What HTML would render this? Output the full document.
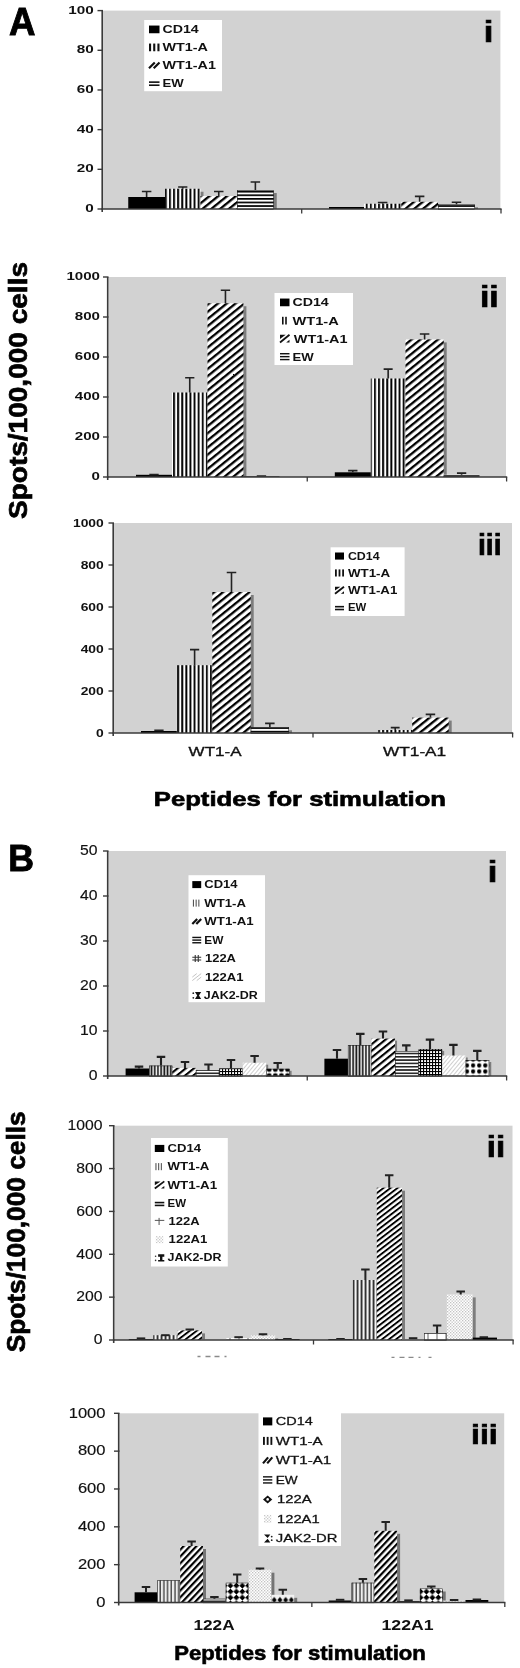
<!DOCTYPE html>
<html><head><meta charset="utf-8"><title>Figure</title>
<style>html,body{margin:0;padding:0;background:#fff}svg{display:block;font-family:"Liberation Sans",sans-serif;filter:blur(0.45px)}body{overflow:hidden;width:520px;height:1668px}</style>
</head><body>
<svg width="520" height="1668" viewBox="0 0 520 1668">
<defs>
<pattern id="v4" patternUnits="userSpaceOnUse" width="4.1" height="4"><rect width="4.1" height="4" fill="#fff"/><rect x="0.9" width="1.9" height="4" fill="#000"/></pattern>
<pattern id="v3" patternUnits="userSpaceOnUse" width="3" height="3"><rect width="3" height="3" fill="#fff"/><rect x="0.2" width="1.5" height="3" fill="#000"/></pattern>
<pattern id="v25" patternUnits="userSpaceOnUse" width="2.6" height="3"><rect width="2.6" height="3" fill="#fff"/><rect x="0.2" width="1.2" height="3" fill="#111"/></pattern>
<pattern id="h4" patternUnits="userSpaceOnUse" width="4" height="3.6"><rect width="4" height="3.6" fill="#fff"/><rect y="0" width="4" height="1.7" fill="#000"/></pattern>
<pattern id="h3" patternUnits="userSpaceOnUse" width="3" height="3.3"><rect width="3" height="3.3" fill="#fff"/><rect y="0" width="3" height="1.6" fill="#222"/></pattern>
<pattern id="dg" patternUnits="userSpaceOnUse" width="5.55" height="5.55" patternTransform="rotate(-39)"><rect width="5.55" height="5.55" fill="#fff"/><rect y="0" width="5.55" height="2.3" fill="#000"/></pattern>
<pattern id="dgs" patternUnits="userSpaceOnUse" width="5.17" height="5.17" patternTransform="rotate(-39)"><rect width="5.17" height="5.17" fill="#fff"/><rect y="0" width="5.17" height="2.1" fill="#000"/></pattern>
<pattern id="dgm" patternUnits="userSpaceOnUse" width="4.66" height="4.66" patternTransform="rotate(-46.7)"><rect width="4.66" height="4.66" fill="#fff"/><rect y="0" width="4.66" height="2.2" fill="#000"/></pattern>
<pattern id="v33" patternUnits="userSpaceOnUse" width="3.2" height="3"><rect width="3.2" height="3" fill="#fff"/><rect x="0.3" width="1.7" height="3" fill="#111"/></pattern>
<pattern id="v40" patternUnits="userSpaceOnUse" width="4" height="3"><rect width="4" height="3" fill="#f4f4f4"/><rect x="0.6" width="1.9" height="3" fill="#333"/></pattern>
<pattern id="v31" patternUnits="userSpaceOnUse" width="3.7" height="3"><rect width="3.7" height="3" fill="#eee"/><rect x="0.4" width="1.4" height="3" fill="#444"/></pattern>
<pattern id="bdots" patternUnits="userSpaceOnUse" x="463.95" y="1062.5" width="6.1" height="6"><rect width="6.1" height="6" fill="#fff"/><circle cx="3.05" cy="3" r="2.15" fill="#000"/></pattern>
<pattern id="bdots1" patternUnits="userSpaceOnUse" x="266.2" y="1066.5" width="6.1" height="6"><rect width="6.1" height="6" fill="#fff"/><circle cx="3.05" cy="3" r="2.3" fill="#000"/></pattern>
<pattern id="dg2" patternUnits="userSpaceOnUse" width="4.26" height="4.26" patternTransform="rotate(-37.4)"><rect width="4.26" height="4.26" fill="#fff"/><rect y="0" width="4.26" height="1.9" fill="#000"/></pattern>
<pattern id="grid" patternUnits="userSpaceOnUse" width="3" height="3"><rect width="3" height="3" fill="#000"/><rect x="1.1" y="1.1" width="1.9" height="1.9" fill="#fff"/></pattern>
<pattern id="biggrid" patternUnits="userSpaceOnUse" width="9" height="7"><rect width="9" height="7" fill="#fff"/><path d="M0 3H9M5 0V7" stroke="#555" stroke-width="0.9"/></pattern>
<pattern id="lhatch" patternUnits="userSpaceOnUse" width="3" height="3" patternTransform="rotate(-50)"><rect width="3" height="3" fill="#fff"/><rect y="0" width="3" height="1" fill="#cfcfcf"/></pattern>
<pattern id="ldot" patternUnits="userSpaceOnUse" width="3" height="3"><rect width="3" height="3" fill="#fff"/><rect x="0" y="0" width="1.3" height="1.3" fill="#c2c2c2"/><rect x="1.5" y="1.5" width="1.3" height="1.3" fill="#c2c2c2"/></pattern>
<pattern id="dots" patternUnits="userSpaceOnUse" width="7.6" height="7.6"><rect width="7.6" height="7.6" fill="#000"/><circle cx="3.8" cy="3.8" r="2.5" fill="#fff"/></pattern>
<pattern id="check" patternUnits="userSpaceOnUse" width="8.4" height="8.4" patternTransform="translate(224.5 1582.7) rotate(45)"><rect width="8.4" height="8.4" fill="#fff"/><rect width="4.2" height="4.2" fill="#000"/><rect x="4.2" y="4.2" width="4.2" height="4.2" fill="#000"/></pattern>
<pattern id="diam" patternUnits="userSpaceOnUse" x="271.4" y="1593.5" width="5.7" height="9"><rect width="5.7" height="9" fill="#f2f2f2"/><path d="M2.85 3.4L5.3 6.4L2.85 9.4L0.4 6.4Z" fill="#000"/></pattern>
</defs>
<rect width="520" height="1668" fill="#fff"/>

<rect x="103.00" y="10.60" width="397.40" height="198.40" fill="#d2d2d2"/>
<rect x="131.25" y="200.00" width="36.75" height="9.00" fill="#7d7d7d"/>
<rect x="168.00" y="191.75" width="35.50" height="17.25" fill="#7d7d7d"/>
<rect x="203.50" y="199.00" width="36.50" height="10.00" fill="#7d7d7d"/>
<rect x="240.00" y="193.00" width="36.75" height="16.00" fill="#7d7d7d"/>
<rect x="367.00" y="206.75" width="37.25" height="2.25" fill="#7d7d7d"/>
<rect x="404.25" y="204.80" width="36.75" height="4.20" fill="#7d7d7d"/>
<rect x="441.00" y="207.30" width="37.00" height="1.70" fill="#7d7d7d"/>
<rect x="128.25" y="197.00" width="36.75" height="12.00" fill="#000"/>
<rect x="165.00" y="188.75" width="35.50" height="20.25" fill="url(#v4)"/>
<rect x="200.50" y="196.00" width="36.50" height="13.00" fill="url(#dg)"/>
<rect x="237.00" y="190.00" width="36.75" height="19.00" fill="url(#h4)"/>
<rect x="237.30" y="190.30" width="36.15" height="19.00" fill="none" stroke="#222" stroke-width="0.6"/>
<rect x="329.00" y="207.00" width="35.00" height="2.00" fill="#000"/>
<rect x="364.00" y="203.75" width="37.25" height="5.25" fill="url(#v4)"/>
<rect x="401.25" y="201.80" width="36.75" height="7.20" fill="url(#dg)"/>
<rect x="438.00" y="204.30" width="37.00" height="4.70" fill="url(#h4)"/>
<rect x="438.30" y="204.60" width="36.40" height="4.70" fill="none" stroke="#222" stroke-width="0.6"/>
<path d="M141.88 191.55H151.38M146.62 191.55V197.00" stroke="#222" stroke-width="1.6" fill="none"/>
<path d="M178.13 187.05H187.37M182.75 187.05V188.75" stroke="#222" stroke-width="1.6" fill="none"/>
<path d="M214.00 191.55H223.50M218.75 191.55V196.00" stroke="#222" stroke-width="1.6" fill="none"/>
<path d="M250.62 182.05H260.12M255.38 182.05V190.00" stroke="#222" stroke-width="1.6" fill="none"/>
<path d="M377.88 202.55H387.38M382.62 202.55V203.75" stroke="#222" stroke-width="1.6" fill="none"/>
<path d="M414.88 196.40H424.38M419.62 196.40V201.80" stroke="#222" stroke-width="1.6" fill="none"/>
<path d="M451.75 202.30H461.25M456.50 202.30V204.30" stroke="#222" stroke-width="1.6" fill="none"/>
<path d="M102.20 10.60V212.00" stroke="#3a3a3a" stroke-width="1.6"/>
<path d="M101.40 209.00H501.60" stroke="#3a3a3a" stroke-width="1.6"/>
<path d="M301.70 209.00V213.50" stroke="#3a3a3a" stroke-width="1.3"/>
<path d="M501.00 209.00V213.50" stroke="#3a3a3a" stroke-width="1.3"/>
<path d="M97.50 209.00H103.00" stroke="#3a3a3a" stroke-width="1.4"/>
<text x="85.25" y="212.00" font-size="11.59" font-weight="bold" fill="#111" textLength="8.50" lengthAdjust="spacingAndGlyphs" >0</text>
<path d="M97.50 169.32H103.00" stroke="#3a3a3a" stroke-width="1.4"/>
<text x="76.75" y="172.32" font-size="11.59" font-weight="bold" fill="#111" textLength="17.00" lengthAdjust="spacingAndGlyphs" >20</text>
<path d="M97.50 129.64H103.00" stroke="#3a3a3a" stroke-width="1.4"/>
<text x="76.75" y="132.64" font-size="11.59" font-weight="bold" fill="#111" textLength="17.00" lengthAdjust="spacingAndGlyphs" >40</text>
<path d="M97.50 89.96H103.00" stroke="#3a3a3a" stroke-width="1.4"/>
<text x="76.75" y="92.96" font-size="11.59" font-weight="bold" fill="#111" textLength="17.00" lengthAdjust="spacingAndGlyphs" >60</text>
<path d="M97.50 50.28H103.00" stroke="#3a3a3a" stroke-width="1.4"/>
<text x="76.75" y="53.28" font-size="11.59" font-weight="bold" fill="#111" textLength="17.00" lengthAdjust="spacingAndGlyphs" >80</text>
<path d="M97.50 10.60H103.00" stroke="#3a3a3a" stroke-width="1.4"/>
<text x="68.25" y="13.60" font-size="11.59" font-weight="bold" fill="#111" textLength="25.50" lengthAdjust="spacingAndGlyphs" >100</text>
<rect x="144.20" y="20.00" width="77.80" height="71.20" fill="#fff"/>
<text x="162.50" y="33.25" font-size="11.16" font-weight="bold" fill="#111" textLength="36.25" lengthAdjust="spacingAndGlyphs" >CD14</text>
<rect x="149.00" y="25.55" width="10.50" height="7.70" fill="#000"/>
<text x="162.50" y="51.25" font-size="11.16" font-weight="bold" fill="#111" textLength="45.50" lengthAdjust="spacingAndGlyphs" >WT1-A</text>
<rect x="149.00" y="43.55" width="2.10" height="7.70" fill="#111"/>
<rect x="153.20" y="43.55" width="2.10" height="7.70" fill="#111"/>
<rect x="157.40" y="43.55" width="2.10" height="7.70" fill="#111"/>
<text x="162.50" y="69.25" font-size="11.16" font-weight="bold" fill="#111" textLength="53.50" lengthAdjust="spacingAndGlyphs" >WT1-A1</text>
<path d="M149.00 68.25L154.78 62.55M153.72 68.25L159.50 62.55" stroke="#111" stroke-width="2.2" fill="none"/>
<text x="162.50" y="86.60" font-size="11.16" font-weight="bold" fill="#111" textLength="21.25" lengthAdjust="spacingAndGlyphs" >EW</text>
<rect x="149.00" y="81.33" width="10.50" height="1.6" fill="#111"/>
<rect x="149.00" y="84.41" width="10.50" height="1.6" fill="#111"/>
<text x="483.73" y="42.35" font-size="29.44" font-weight="bold" fill="#000" stroke="#000" stroke-width="0.7" textLength="9.62" lengthAdjust="spacingAndGlyphs">i</text>
<rect x="108.50" y="277.00" width="397.50" height="200.00" fill="#d2d2d2"/>
<rect x="175.00" y="395.50" width="35.50" height="81.50" fill="#7d7d7d"/>
<rect x="210.50" y="306.25" width="35.90" height="170.75" fill="#7d7d7d"/>
<rect x="337.80" y="475.30" width="36.00" height="1.70" fill="#7d7d7d"/>
<rect x="373.80" y="381.50" width="34.70" height="95.50" fill="#7d7d7d"/>
<rect x="408.50" y="342.40" width="38.20" height="134.60" fill="#7d7d7d"/>
<rect x="136.00" y="474.80" width="36.00" height="2.20" fill="#000"/>
<rect x="172.00" y="392.50" width="35.50" height="84.50" fill="url(#v4)"/>
<rect x="207.50" y="303.25" width="35.90" height="173.75" fill="url(#dg)"/>
<rect x="243.40" y="476.20" width="36.10" height="0.80" fill="url(#h3)"/>
<rect x="334.80" y="472.30" width="36.00" height="4.70" fill="#000"/>
<rect x="370.80" y="378.50" width="34.70" height="98.50" fill="url(#v4)"/>
<rect x="405.50" y="339.40" width="38.20" height="137.60" fill="url(#dg)"/>
<rect x="443.70" y="474.80" width="35.80" height="2.20" fill="url(#h3)"/>
<path d="M149.32 474.60H158.68M154.00 474.60V474.80" stroke="#222" stroke-width="1.6" fill="none"/>
<path d="M185.13 377.80H194.37M189.75 377.80V392.50" stroke="#222" stroke-width="1.6" fill="none"/>
<path d="M220.78 290.30H230.12M225.45 290.30V303.25" stroke="#222" stroke-width="1.6" fill="none"/>
<path d="M256.76 476.00H266.14M261.45 476.00V476.20" stroke="#222" stroke-width="1.6" fill="none"/>
<path d="M348.12 470.60H357.48M352.80 470.60V472.30" stroke="#222" stroke-width="1.6" fill="none"/>
<path d="M383.64 369.10H392.66M388.15 369.10V378.50" stroke="#222" stroke-width="1.6" fill="none"/>
<path d="M419.85 334.00H429.35M424.60 334.00V339.40" stroke="#222" stroke-width="1.6" fill="none"/>
<path d="M456.95 473.10H466.25M461.60 473.10V474.80" stroke="#222" stroke-width="1.6" fill="none"/>
<path d="M107.70 277.00V480.00" stroke="#3a3a3a" stroke-width="1.6"/>
<path d="M106.90 477.00H507.20" stroke="#3a3a3a" stroke-width="1.6"/>
<path d="M307.25 477.00V481.50" stroke="#3a3a3a" stroke-width="1.3"/>
<path d="M506.60 477.00V481.50" stroke="#3a3a3a" stroke-width="1.3"/>
<path d="M103.00 477.00H108.50" stroke="#3a3a3a" stroke-width="1.4"/>
<text x="91.60" y="480.40" font-size="11.30" font-weight="bold" fill="#111" textLength="8.40" lengthAdjust="spacingAndGlyphs" >0</text>
<path d="M103.00 437.00H108.50" stroke="#3a3a3a" stroke-width="1.4"/>
<text x="74.80" y="440.40" font-size="11.30" font-weight="bold" fill="#111" textLength="25.20" lengthAdjust="spacingAndGlyphs" >200</text>
<path d="M103.00 397.00H108.50" stroke="#3a3a3a" stroke-width="1.4"/>
<text x="74.80" y="400.40" font-size="11.30" font-weight="bold" fill="#111" textLength="25.20" lengthAdjust="spacingAndGlyphs" >400</text>
<path d="M103.00 357.00H108.50" stroke="#3a3a3a" stroke-width="1.4"/>
<text x="74.80" y="360.40" font-size="11.30" font-weight="bold" fill="#111" textLength="25.20" lengthAdjust="spacingAndGlyphs" >600</text>
<path d="M103.00 317.00H108.50" stroke="#3a3a3a" stroke-width="1.4"/>
<text x="74.80" y="320.40" font-size="11.30" font-weight="bold" fill="#111" textLength="25.20" lengthAdjust="spacingAndGlyphs" >800</text>
<path d="M103.00 277.00H108.50" stroke="#3a3a3a" stroke-width="1.4"/>
<text x="66.40" y="280.40" font-size="11.30" font-weight="bold" fill="#111" textLength="33.60" lengthAdjust="spacingAndGlyphs" >1000</text>
<rect x="274.50" y="293.00" width="78.50" height="72.00" fill="#fff"/>
<text x="292.50" y="306.25" font-size="11.16" font-weight="bold" fill="#111" textLength="36.25" lengthAdjust="spacingAndGlyphs" >CD14</text>
<rect x="280.00" y="298.55" width="9.50" height="7.70" fill="#000"/>
<text x="292.50" y="324.50" font-size="11.16" font-weight="bold" fill="#111" textLength="46.25" lengthAdjust="spacingAndGlyphs" >WT1-A</text>
<rect x="282.00" y="316.80" width="1.6" height="7.70" fill="#111"/>
<rect x="285.20" y="316.80" width="1.6" height="7.70" fill="#111"/>
<text x="293.75" y="342.50" font-size="11.16" font-weight="bold" fill="#111" textLength="53.75" lengthAdjust="spacingAndGlyphs" >WT1-A1</text>
<path d="M280.00 334.80H285.70L280.00 339.04Z" fill="#111"/>
<path d="M280.00 342.50L289.50 334.80" stroke="#111" stroke-width="1.8"/>
<path d="M289.50 342.50H286.18L289.50 339.81Z" fill="#111"/>
<text x="292.50" y="360.50" font-size="11.16" font-weight="bold" fill="#111" textLength="21.25" lengthAdjust="spacingAndGlyphs" >EW</text>
<rect x="280.00" y="353.02" width="9.50" height="1.4" fill="#111"/>
<rect x="280.00" y="355.95" width="9.50" height="1.4" fill="#111"/>
<rect x="280.00" y="358.88" width="9.50" height="1.4" fill="#111"/>
<text x="479.98" y="307.35" font-size="29.17" font-weight="bold" fill="#000" stroke="#000" stroke-width="0.7" textLength="18.81" lengthAdjust="spacingAndGlyphs">ii</text>
<rect x="114.00" y="523.00" width="398.00" height="210.00" fill="#d2d2d2"/>
<rect x="179.90" y="668.20" width="35.40" height="64.80" fill="#7d7d7d"/>
<rect x="215.30" y="595.00" width="38.40" height="138.00" fill="#7d7d7d"/>
<rect x="253.70" y="730.30" width="38.30" height="2.70" fill="#7d7d7d"/>
<rect x="415.20" y="720.60" width="36.50" height="12.40" fill="#7d7d7d"/>
<rect x="141.00" y="731.00" width="35.90" height="2.00" fill="#000"/>
<rect x="176.90" y="665.20" width="35.40" height="67.80" fill="url(#v4)"/>
<rect x="212.30" y="592.00" width="38.40" height="141.00" fill="url(#dg)"/>
<rect x="250.70" y="727.30" width="38.30" height="5.70" fill="url(#h4)"/>
<rect x="251.00" y="727.60" width="37.70" height="5.70" fill="none" stroke="#222" stroke-width="0.6"/>
<rect x="378.20" y="730.00" width="34.00" height="3.00" fill="url(#v4)"/>
<rect x="412.20" y="717.60" width="36.50" height="15.40" fill="url(#dg)"/>
<path d="M154.28 730.40H163.62M158.95 730.40V731.00" stroke="#222" stroke-width="1.6" fill="none"/>
<path d="M190.00 649.60H199.20M194.60 649.60V665.20" stroke="#222" stroke-width="1.6" fill="none"/>
<path d="M226.75 572.50H236.25M231.50 572.50V592.00" stroke="#222" stroke-width="1.6" fill="none"/>
<path d="M265.10 723.40H274.60M269.85 723.40V727.30" stroke="#222" stroke-width="1.6" fill="none"/>
<path d="M390.78 727.60H399.62M395.20 727.60V730.00" stroke="#222" stroke-width="1.6" fill="none"/>
<path d="M425.70 714.40H435.19M430.45 714.40V717.60" stroke="#222" stroke-width="1.6" fill="none"/>
<path d="M113.20 523.00V736.00" stroke="#3a3a3a" stroke-width="1.6"/>
<path d="M112.40 733.00H513.20" stroke="#3a3a3a" stroke-width="1.6"/>
<path d="M313.00 733.00V737.50" stroke="#3a3a3a" stroke-width="1.3"/>
<path d="M512.60 733.00V737.50" stroke="#3a3a3a" stroke-width="1.3"/>
<path d="M108.50 733.00H114.00" stroke="#3a3a3a" stroke-width="1.4"/>
<text x="96.05" y="737.10" font-size="10.43" font-weight="bold" fill="#111" textLength="7.70" lengthAdjust="spacingAndGlyphs" >0</text>
<path d="M108.50 691.00H114.00" stroke="#3a3a3a" stroke-width="1.4"/>
<text x="80.65" y="695.10" font-size="10.43" font-weight="bold" fill="#111" textLength="23.10" lengthAdjust="spacingAndGlyphs" >200</text>
<path d="M108.50 649.00H114.00" stroke="#3a3a3a" stroke-width="1.4"/>
<text x="80.65" y="653.10" font-size="10.43" font-weight="bold" fill="#111" textLength="23.10" lengthAdjust="spacingAndGlyphs" >400</text>
<path d="M108.50 607.00H114.00" stroke="#3a3a3a" stroke-width="1.4"/>
<text x="80.65" y="611.10" font-size="10.43" font-weight="bold" fill="#111" textLength="23.10" lengthAdjust="spacingAndGlyphs" >600</text>
<path d="M108.50 565.00H114.00" stroke="#3a3a3a" stroke-width="1.4"/>
<text x="80.65" y="569.10" font-size="10.43" font-weight="bold" fill="#111" textLength="23.10" lengthAdjust="spacingAndGlyphs" >800</text>
<path d="M108.50 523.00H114.00" stroke="#3a3a3a" stroke-width="1.4"/>
<text x="72.95" y="527.10" font-size="10.43" font-weight="bold" fill="#111" textLength="30.80" lengthAdjust="spacingAndGlyphs" >1000</text>
<rect x="330.60" y="547.30" width="74.00" height="68.70" fill="#fff"/>
<text x="347.90" y="559.60" font-size="10.29" font-weight="bold" fill="#111" textLength="31.70" lengthAdjust="spacingAndGlyphs" >CD14</text>
<rect x="335.00" y="552.50" width="9.00" height="7.10" fill="#000"/>
<text x="347.90" y="576.50" font-size="10.29" font-weight="bold" fill="#111" textLength="42.30" lengthAdjust="spacingAndGlyphs" >WT1-A</text>
<rect x="335.00" y="569.40" width="1.80" height="7.10" fill="#111"/>
<rect x="338.60" y="569.40" width="1.80" height="7.10" fill="#111"/>
<rect x="342.20" y="569.40" width="1.80" height="7.10" fill="#111"/>
<text x="347.90" y="593.80" font-size="10.29" font-weight="bold" fill="#111" textLength="49.40" lengthAdjust="spacingAndGlyphs" >WT1-A1</text>
<path d="M335.00 586.70H340.40L335.00 590.60Z" fill="#111"/>
<path d="M335.00 593.80L344.00 586.70" stroke="#111" stroke-width="1.8"/>
<path d="M344.00 593.80H340.85L344.00 591.31Z" fill="#111"/>
<text x="347.90" y="610.80" font-size="10.29" font-weight="bold" fill="#111" textLength="18.30" lengthAdjust="spacingAndGlyphs" >EW</text>
<rect x="335.00" y="605.88" width="9.00" height="1.6" fill="#111"/>
<rect x="335.00" y="608.72" width="9.00" height="1.6" fill="#111"/>
<text x="477.96" y="555.15" font-size="28.89" font-weight="bold" fill="#000" stroke="#000" stroke-width="0.7" textLength="23.71" lengthAdjust="spacingAndGlyphs">iii</text>
<text x="188.60" y="756.20" font-size="13.33" font-weight="normal" fill="#111" textLength="52.90" lengthAdjust="spacingAndGlyphs" stroke="#111" stroke-width="0.35">WT1-A</text>
<text x="383.00" y="756.20" font-size="13.33" font-weight="normal" fill="#111" textLength="63.20" lengthAdjust="spacingAndGlyphs" stroke="#111" stroke-width="0.35">WT1-A1</text>
<text x="153.80" y="806.40" font-size="19.42" font-weight="bold" fill="#000" textLength="292.20" lengthAdjust="spacingAndGlyphs" stroke="#000" stroke-width="0.6">Peptides for stimulation</text>
<text x="9" y="34.5" font-size="38.4" font-weight="bold" fill="#000" stroke="#000" stroke-width="0.9" textLength="26.5" lengthAdjust="spacingAndGlyphs">A</text>
<text x="8.2" y="871.2" font-size="37.3" font-weight="bold" fill="#000" stroke="#000" stroke-width="0.9" textLength="25.8" lengthAdjust="spacingAndGlyphs">B</text>
<text transform="translate(26.50,519.00) rotate(-90)" x="0" y="0" font-size="26.09" font-weight="bold" fill="#000" stroke="#000" stroke-width="0.7" textLength="257.00" lengthAdjust="spacingAndGlyphs">Spots/100,000 cells</text>
<text transform="translate(25.20,1352.30) rotate(-90)" x="0" y="0" font-size="25.51" font-weight="bold" fill="#000" stroke="#000" stroke-width="0.7" textLength="241.00" lengthAdjust="spacingAndGlyphs">Spots/100,000 cells</text>
<rect x="108.50" y="851.00" width="397.50" height="225.00" fill="#d2d2d2"/>
<rect x="127.60" y="1070.50" width="23.43" height="5.50" fill="#7d7d7d"/>
<rect x="151.03" y="1067.60" width="23.43" height="8.40" fill="#7d7d7d"/>
<rect x="174.46" y="1069.90" width="23.43" height="6.10" fill="#7d7d7d"/>
<rect x="197.89" y="1072.40" width="23.43" height="3.60" fill="#7d7d7d"/>
<rect x="221.32" y="1070.50" width="23.43" height="5.50" fill="#7d7d7d"/>
<rect x="244.75" y="1064.70" width="23.43" height="11.30" fill="#7d7d7d"/>
<rect x="268.18" y="1070.80" width="23.43" height="5.20" fill="#7d7d7d"/>
<rect x="326.40" y="1060.70" width="23.55" height="15.30" fill="#7d7d7d"/>
<rect x="349.95" y="1047.00" width="23.55" height="29.00" fill="#7d7d7d"/>
<rect x="373.50" y="1040.60" width="23.55" height="35.40" fill="#7d7d7d"/>
<rect x="397.05" y="1053.30" width="23.55" height="22.70" fill="#7d7d7d"/>
<rect x="420.60" y="1051.00" width="23.55" height="25.00" fill="#7d7d7d"/>
<rect x="444.15" y="1057.50" width="23.55" height="18.50" fill="#7d7d7d"/>
<rect x="467.70" y="1062.00" width="23.55" height="14.00" fill="#7d7d7d"/>
<rect x="125.60" y="1068.50" width="23.43" height="7.50" fill="#000"/>
<rect x="149.03" y="1065.60" width="23.43" height="10.40" fill="url(#v33)"/>
<rect x="149.33" y="1065.90" width="22.83" height="10.40" fill="none" stroke="#222" stroke-width="0.6"/>
<rect x="172.46" y="1067.90" width="23.43" height="8.10" fill="url(#dgs)"/>
<rect x="195.89" y="1070.40" width="23.43" height="5.60" fill="url(#h3)"/>
<rect x="196.19" y="1070.70" width="22.83" height="5.60" fill="none" stroke="#222" stroke-width="0.6"/>
<rect x="219.32" y="1068.50" width="23.43" height="7.50" fill="url(#grid)"/>
<rect x="219.62" y="1068.80" width="22.83" height="7.50" fill="none" stroke="#222" stroke-width="0.6"/>
<rect x="242.75" y="1062.70" width="23.43" height="13.30" fill="url(#lhatch)"/>
<rect x="266.18" y="1068.80" width="23.43" height="7.20" fill="url(#bdots1)"/>
<rect x="266.48" y="1069.10" width="22.83" height="7.20" fill="none" stroke="#222" stroke-width="0.6"/>
<rect x="324.40" y="1058.70" width="23.55" height="17.30" fill="#000"/>
<rect x="347.95" y="1045.00" width="23.55" height="31.00" fill="url(#v33)"/>
<rect x="348.25" y="1045.30" width="22.95" height="31.00" fill="none" stroke="#222" stroke-width="0.6"/>
<rect x="371.50" y="1038.60" width="23.55" height="37.40" fill="url(#dgs)"/>
<rect x="395.05" y="1051.30" width="23.55" height="24.70" fill="url(#h3)"/>
<rect x="395.35" y="1051.60" width="22.95" height="24.70" fill="none" stroke="#222" stroke-width="0.6"/>
<rect x="418.60" y="1049.00" width="23.55" height="27.00" fill="url(#grid)"/>
<rect x="418.90" y="1049.30" width="22.95" height="27.00" fill="none" stroke="#222" stroke-width="0.6"/>
<rect x="442.15" y="1055.50" width="23.55" height="20.50" fill="url(#lhatch)"/>
<rect x="465.70" y="1060.00" width="23.55" height="16.00" fill="url(#bdots)"/>
<rect x="466.00" y="1060.30" width="22.95" height="16.00" fill="none" stroke="#222" stroke-width="0.6"/>
<path d="M134.75 1066.65H143.25M139.00 1066.65V1068.50" stroke="#222" stroke-width="2.1" fill="none"/>
<path d="M156.75 1056.85H165.25M161.00 1056.85V1065.60" stroke="#222" stroke-width="2.1" fill="none"/>
<path d="M180.75 1062.05H189.25M185.00 1062.05V1067.90" stroke="#222" stroke-width="2.1" fill="none"/>
<path d="M204.25 1064.55H212.75M208.50 1064.55V1070.40" stroke="#222" stroke-width="2.1" fill="none"/>
<path d="M226.75 1060.05H235.25M231.00 1060.05V1068.50" stroke="#222" stroke-width="2.1" fill="none"/>
<path d="M250.35 1056.05H258.85M254.60 1056.05V1062.70" stroke="#222" stroke-width="2.1" fill="none"/>
<path d="M273.45 1063.05H281.95M277.70 1063.05V1068.80" stroke="#222" stroke-width="2.1" fill="none"/>
<path d="M332.75 1050.05H341.25M337.00 1050.05V1058.70" stroke="#222" stroke-width="2.1" fill="none"/>
<path d="M356.05 1033.85H364.55M360.30 1033.85V1045.00" stroke="#222" stroke-width="2.1" fill="none"/>
<path d="M378.75 1031.55H387.25M383.00 1031.55V1038.60" stroke="#222" stroke-width="2.1" fill="none"/>
<path d="M402.05 1045.35H410.55M406.30 1045.35V1051.30" stroke="#222" stroke-width="2.1" fill="none"/>
<path d="M425.75 1039.65H434.25M430.00 1039.65V1049.00" stroke="#222" stroke-width="2.1" fill="none"/>
<path d="M449.15 1044.85H457.65M453.40 1044.85V1055.50" stroke="#222" stroke-width="2.1" fill="none"/>
<path d="M473.05 1050.85H481.55M477.30 1050.85V1060.00" stroke="#222" stroke-width="2.1" fill="none"/>
<path d="M107.70 851.00V1079.00" stroke="#3a3a3a" stroke-width="1.6"/>
<path d="M106.90 1076.00H507.20" stroke="#3a3a3a" stroke-width="1.6"/>
<path d="M307.25 1076.00V1080.50" stroke="#3a3a3a" stroke-width="1.3"/>
<path d="M506.60 1076.00V1080.50" stroke="#3a3a3a" stroke-width="1.3"/>
<path d="M103.00 1076.00H108.50" stroke="#3a3a3a" stroke-width="1.4"/>
<text x="88.75" y="1080.40" font-size="14.20" font-weight="normal" fill="#111" textLength="8.75" lengthAdjust="spacingAndGlyphs" stroke="#111" stroke-width="0.15">0</text>
<path d="M103.00 1031.00H108.50" stroke="#3a3a3a" stroke-width="1.4"/>
<text x="80.00" y="1035.40" font-size="14.20" font-weight="normal" fill="#111" textLength="17.50" lengthAdjust="spacingAndGlyphs" stroke="#111" stroke-width="0.15">10</text>
<path d="M103.00 986.00H108.50" stroke="#3a3a3a" stroke-width="1.4"/>
<text x="80.00" y="990.40" font-size="14.20" font-weight="normal" fill="#111" textLength="17.50" lengthAdjust="spacingAndGlyphs" stroke="#111" stroke-width="0.15">20</text>
<path d="M103.00 941.00H108.50" stroke="#3a3a3a" stroke-width="1.4"/>
<text x="80.00" y="945.40" font-size="14.20" font-weight="normal" fill="#111" textLength="17.50" lengthAdjust="spacingAndGlyphs" stroke="#111" stroke-width="0.15">30</text>
<path d="M103.00 896.00H108.50" stroke="#3a3a3a" stroke-width="1.4"/>
<text x="80.00" y="900.40" font-size="14.20" font-weight="normal" fill="#111" textLength="17.50" lengthAdjust="spacingAndGlyphs" stroke="#111" stroke-width="0.15">40</text>
<path d="M103.00 851.00H108.50" stroke="#3a3a3a" stroke-width="1.4"/>
<text x="80.00" y="855.40" font-size="14.20" font-weight="normal" fill="#111" textLength="17.50" lengthAdjust="spacingAndGlyphs" stroke="#111" stroke-width="0.15">50</text>
<rect x="188.50" y="875.20" width="76.50" height="127.00" fill="#fff"/>
<text x="204.30" y="888.10" font-size="10.14" font-weight="bold" fill="#111" textLength="33.20" lengthAdjust="spacingAndGlyphs" >CD14</text>
<rect x="192.30" y="881.10" width="8.90" height="7.00" fill="#000"/>
<text x="204.30" y="906.60" font-size="10.14" font-weight="bold" fill="#111" textLength="41.70" lengthAdjust="spacingAndGlyphs" >WT1-A</text>
<rect x="192.90" y="899.60" width="1.1" height="7.00" fill="#555"/>
<rect x="195.60" y="899.60" width="1.1" height="7.00" fill="#555"/>
<rect x="198.30" y="899.60" width="1.1" height="7.00" fill="#555"/>
<text x="204.30" y="925.10" font-size="10.14" font-weight="bold" fill="#111" textLength="49.30" lengthAdjust="spacingAndGlyphs" >WT1-A1</text>
<path d="M192.30 924.10L197.19 919.10M196.31 924.10L201.20 919.10" stroke="#111" stroke-width="2.2" fill="none"/>
<text x="204.30" y="943.60" font-size="10.14" font-weight="bold" fill="#111" textLength="19.10" lengthAdjust="spacingAndGlyphs" >EW</text>
<rect x="192.30" y="936.74" width="8.90" height="1.4" fill="#111"/>
<rect x="192.30" y="939.40" width="8.90" height="1.4" fill="#111"/>
<rect x="192.30" y="942.06" width="8.90" height="1.4" fill="#111"/>
<text x="205.00" y="962.10" font-size="10.14" font-weight="bold" fill="#111" textLength="31.00" lengthAdjust="spacingAndGlyphs" >122A</text>
<path d="M195.24 955.10V962.10M198.26 955.10V962.10M192.30 957.20H201.20M192.30 960.00H201.20" stroke="#333" stroke-width="1.1" fill="none"/>
<text x="205.00" y="980.60" font-size="10.14" font-weight="bold" fill="#111" textLength="38.50" lengthAdjust="spacingAndGlyphs" >122A1</text>
<path d="M192.30 980.60L201.20 973.60M192.30 977.10L196.75 973.60M196.75 980.60L201.20 977.10" stroke="#c4c4c4" stroke-width="1" fill="none"/>
<text x="203.70" y="999.00" font-size="10.14" font-weight="bold" fill="#111" textLength="54.10" lengthAdjust="spacingAndGlyphs" >JAK2-DR</text>
<path d="M194.97 992.00H201.20L198.97 995.50L201.20 999.00H194.97L197.19 995.50Z" fill="#111"/>
<circle cx="193.30" cy="993.20" r="0.9" fill="#222"/><circle cx="193.30" cy="997.80" r="0.9" fill="#222"/>
<text x="487.73" y="881.75" font-size="29.17" font-weight="bold" fill="#000" stroke="#000" stroke-width="0.7" textLength="9.62" lengthAdjust="spacingAndGlyphs">i</text>
<rect x="114.50" y="1125.70" width="398.00" height="214.30" fill="#d2d2d2"/>
<rect x="156.20" y="1338.20" width="24.40" height="1.80" fill="#7d7d7d"/>
<rect x="180.60" y="1333.40" width="24.40" height="6.60" fill="#7d7d7d"/>
<rect x="253.80" y="1338.40" width="24.40" height="1.60" fill="#7d7d7d"/>
<rect x="355.70" y="1283.00" width="24.10" height="57.00" fill="#7d7d7d"/>
<rect x="379.80" y="1190.70" width="25.20" height="149.30" fill="#7d7d7d"/>
<rect x="427.20" y="1336.00" width="22.60" height="4.00" fill="#7d7d7d"/>
<rect x="449.80" y="1297.40" width="25.90" height="42.60" fill="#7d7d7d"/>
<rect x="128.80" y="1339.00" width="24.40" height="1.00" fill="#000"/>
<rect x="153.20" y="1335.20" width="24.40" height="4.80" fill="url(#v40)"/>
<rect x="177.60" y="1330.40" width="24.40" height="9.60" fill="url(#dg2)"/>
<rect x="202.00" y="1339.30" width="24.40" height="0.70" fill="url(#h3)"/>
<rect x="226.40" y="1338.00" width="24.40" height="2.00" fill="url(#biggrid)"/>
<rect x="250.80" y="1335.40" width="24.40" height="4.60" fill="url(#ldot)"/>
<rect x="275.20" y="1339.00" width="24.40" height="1.00" fill="#000"/>
<rect x="328.30" y="1339.00" width="24.40" height="1.00" fill="#000"/>
<rect x="352.70" y="1280.00" width="24.10" height="60.00" fill="url(#v40)"/>
<rect x="376.80" y="1187.70" width="25.20" height="152.30" fill="url(#dg2)"/>
<rect x="402.00" y="1339.00" width="22.20" height="1.00" fill="url(#h3)"/>
<rect x="424.20" y="1333.00" width="22.60" height="7.00" fill="url(#biggrid)"/>
<rect x="424.50" y="1333.30" width="22.00" height="7.00" fill="none" stroke="#222" stroke-width="0.6"/>
<rect x="446.80" y="1294.40" width="25.90" height="45.60" fill="url(#ldot)"/>
<rect x="472.70" y="1337.60" width="24.30" height="2.40" fill="#000"/>
<rect x="136.75" y="1337.40" width="8.50" height="2.0" fill="#222"/>
<path d="M161.15 1335.20H169.65M165.40 1335.20V1335.20" stroke="#222" stroke-width="2.0" fill="none"/>
<path d="M185.55 1329.50H194.05M189.80 1329.50V1330.40" stroke="#222" stroke-width="2.0" fill="none"/>
<rect x="234.35" y="1336.20" width="8.50" height="2.0" fill="#222"/>
<path d="M258.75 1334.30H267.25M263.00 1334.30V1335.40" stroke="#222" stroke-width="2.0" fill="none"/>
<path d="M283.15 1339.00H291.65M287.40 1339.00V1339.00" stroke="#222" stroke-width="2.0" fill="none"/>
<path d="M336.25 1339.00H344.75M340.50 1339.00V1339.00" stroke="#222" stroke-width="2.0" fill="none"/>
<path d="M361.15 1269.50H369.65M365.40 1269.50V1280.00" stroke="#222" stroke-width="2.0" fill="none"/>
<path d="M384.95 1175.20H393.45M389.20 1175.20V1187.70" stroke="#222" stroke-width="2.0" fill="none"/>
<rect x="408.85" y="1337.20" width="8.50" height="2.0" fill="#222"/>
<path d="M432.85 1325.60H441.35M437.10 1325.60V1333.00" stroke="#222" stroke-width="2.0" fill="none"/>
<path d="M456.45 1291.40H464.95M460.70 1291.40V1294.40" stroke="#222" stroke-width="2.0" fill="none"/>
<path d="M479.55 1337.20H488.05M483.80 1337.20V1337.60" stroke="#222" stroke-width="2.0" fill="none"/>
<path d="M113.70 1125.70V1343.00" stroke="#3a3a3a" stroke-width="1.6"/>
<path d="M112.90 1340.00H513.70" stroke="#3a3a3a" stroke-width="1.6"/>
<path d="M313.50 1340.00V1344.50" stroke="#3a3a3a" stroke-width="1.3"/>
<path d="M513.10 1340.00V1344.50" stroke="#3a3a3a" stroke-width="1.3"/>
<path d="M109.00 1340.00H114.50" stroke="#3a3a3a" stroke-width="1.4"/>
<text x="93.75" y="1344.25" font-size="13.77" font-weight="normal" fill="#111" textLength="8.75" lengthAdjust="spacingAndGlyphs" stroke="#111" stroke-width="0.15">0</text>
<path d="M109.00 1297.14H114.50" stroke="#3a3a3a" stroke-width="1.4"/>
<text x="76.25" y="1301.39" font-size="13.77" font-weight="normal" fill="#111" textLength="26.25" lengthAdjust="spacingAndGlyphs" stroke="#111" stroke-width="0.15">200</text>
<path d="M109.00 1254.28H114.50" stroke="#3a3a3a" stroke-width="1.4"/>
<text x="76.25" y="1258.53" font-size="13.77" font-weight="normal" fill="#111" textLength="26.25" lengthAdjust="spacingAndGlyphs" stroke="#111" stroke-width="0.15">400</text>
<path d="M109.00 1211.42H114.50" stroke="#3a3a3a" stroke-width="1.4"/>
<text x="76.25" y="1215.67" font-size="13.77" font-weight="normal" fill="#111" textLength="26.25" lengthAdjust="spacingAndGlyphs" stroke="#111" stroke-width="0.15">600</text>
<path d="M109.00 1168.56H114.50" stroke="#3a3a3a" stroke-width="1.4"/>
<text x="76.25" y="1172.81" font-size="13.77" font-weight="normal" fill="#111" textLength="26.25" lengthAdjust="spacingAndGlyphs" stroke="#111" stroke-width="0.15">800</text>
<path d="M109.00 1125.70H114.50" stroke="#3a3a3a" stroke-width="1.4"/>
<text x="67.50" y="1129.95" font-size="13.77" font-weight="normal" fill="#111" textLength="35.00" lengthAdjust="spacingAndGlyphs" stroke="#111" stroke-width="0.15">1000</text>
<rect x="151.00" y="1138.00" width="76.80" height="128.50" fill="#fff"/>
<text x="167.50" y="1152.00" font-size="10.29" font-weight="bold" fill="#111" textLength="33.50" lengthAdjust="spacingAndGlyphs" >CD14</text>
<rect x="154.80" y="1144.90" width="9.50" height="7.10" fill="#000"/>
<text x="167.50" y="1170.20" font-size="10.29" font-weight="bold" fill="#111" textLength="41.90" lengthAdjust="spacingAndGlyphs" >WT1-A</text>
<rect x="155.40" y="1163.10" width="1.1" height="7.10" fill="#555"/>
<rect x="158.10" y="1163.10" width="1.1" height="7.10" fill="#555"/>
<rect x="160.80" y="1163.10" width="1.1" height="7.10" fill="#555"/>
<text x="167.50" y="1188.50" font-size="10.29" font-weight="bold" fill="#111" textLength="49.70" lengthAdjust="spacingAndGlyphs" >WT1-A1</text>
<path d="M154.80 1181.40H160.50L154.80 1185.31Z" fill="#111"/>
<path d="M154.80 1188.50L164.30 1181.40" stroke="#111" stroke-width="1.8"/>
<path d="M164.30 1188.50H160.98L164.30 1186.02Z" fill="#111"/>
<text x="167.50" y="1206.70" font-size="10.29" font-weight="bold" fill="#111" textLength="18.50" lengthAdjust="spacingAndGlyphs" >EW</text>
<rect x="154.80" y="1201.78" width="9.50" height="1.6" fill="#111"/>
<rect x="154.80" y="1204.62" width="9.50" height="1.6" fill="#111"/>
<text x="168.60" y="1225.00" font-size="10.29" font-weight="bold" fill="#111" textLength="31.10" lengthAdjust="spacingAndGlyphs" >122A</text>
<path d="M159.08 1217.90V1225.00M154.80 1220.38H164.30" stroke="#555" stroke-width="1" fill="none"/>
<text x="168.60" y="1243.20" font-size="10.29" font-weight="bold" fill="#111" textLength="38.70" lengthAdjust="spacingAndGlyphs" >122A1</text>
<rect x="155.80" y="1236.10" width="7.50" height="7.10" fill="url(#ldot)" opacity="0.9"/>
<text x="167.50" y="1261.40" font-size="10.29" font-weight="bold" fill="#111" textLength="53.90" lengthAdjust="spacingAndGlyphs" >JAK2-DR</text>
<path d="M158.12 1254.30H164.30V1256.79H162.40V1259.90H164.30V1261.40H158.12V1259.90H160.03V1256.79H158.12Z" fill="#111"/>
<circle cx="155.60" cy="1256.30" r="0.8" fill="#333"/><circle cx="155.60" cy="1260.40" r="0.8" fill="#333"/>
<text x="486.83" y="1156.65" font-size="28.75" font-weight="bold" fill="#000" stroke="#000" stroke-width="0.7" textLength="18.40" lengthAdjust="spacingAndGlyphs">ii</text>
<path d="M197.5 1356.5h3M205.5 1356.5h5M214.5 1356.5h5M224.5 1356.5h2" stroke="#8a8a8a" stroke-width="1.3"/>
<path d="M391.5 1357.3h3M399.5 1357.3h5M408.5 1357.3h5M418.5 1357.3h2M428.5 1357.3h3" stroke="#8a8a8a" stroke-width="1.3"/>
<rect x="119.50" y="1413.30" width="384.70" height="189.20" fill="#d2d2d2"/>
<rect x="137.60" y="1595.30" width="22.80" height="7.20" fill="#747474"/>
<rect x="160.40" y="1583.40" width="22.80" height="19.10" fill="#747474"/>
<rect x="183.20" y="1549.00" width="22.80" height="53.50" fill="#747474"/>
<rect x="228.80" y="1585.70" width="22.80" height="16.80" fill="#747474"/>
<rect x="251.60" y="1572.70" width="22.80" height="29.80" fill="#747474"/>
<rect x="274.40" y="1597.80" width="22.80" height="4.70" fill="#747474"/>
<rect x="354.50" y="1585.70" width="22.80" height="16.80" fill="#747474"/>
<rect x="377.30" y="1533.80" width="22.80" height="68.70" fill="#747474"/>
<rect x="422.90" y="1591.50" width="22.80" height="11.00" fill="#747474"/>
<rect x="134.60" y="1592.30" width="22.80" height="10.20" fill="#000"/>
<rect x="157.40" y="1580.40" width="22.80" height="22.10" fill="url(#v31)"/>
<rect x="157.70" y="1580.70" width="22.20" height="22.10" fill="none" stroke="#222" stroke-width="0.6"/>
<rect x="180.20" y="1546.00" width="22.80" height="56.50" fill="url(#dgm)"/>
<rect x="203.00" y="1598.80" width="22.80" height="3.70" fill="url(#h3)"/>
<rect x="203.30" y="1599.10" width="22.20" height="3.70" fill="none" stroke="#222" stroke-width="0.6"/>
<rect x="225.80" y="1582.70" width="22.80" height="19.80" fill="url(#check)"/>
<rect x="226.10" y="1583.00" width="22.20" height="19.80" fill="none" stroke="#222" stroke-width="0.6"/>
<rect x="248.60" y="1569.70" width="22.80" height="32.80" fill="url(#ldot)"/>
<rect x="271.40" y="1594.80" width="22.80" height="7.70" fill="url(#diam)"/>
<rect x="328.70" y="1600.50" width="22.80" height="2.00" fill="#000"/>
<rect x="351.50" y="1582.70" width="22.80" height="19.80" fill="url(#v31)"/>
<rect x="351.80" y="1583.00" width="22.20" height="19.80" fill="none" stroke="#222" stroke-width="0.6"/>
<rect x="374.30" y="1530.80" width="22.80" height="71.70" fill="url(#dgm)"/>
<rect x="397.10" y="1601.00" width="22.80" height="1.50" fill="url(#h3)"/>
<rect x="419.90" y="1588.50" width="22.80" height="14.00" fill="url(#check)"/>
<rect x="420.20" y="1588.80" width="22.20" height="14.00" fill="none" stroke="#222" stroke-width="0.6"/>
<rect x="442.70" y="1600.60" width="22.80" height="1.90" fill="url(#ldot)"/>
<rect x="465.50" y="1600.00" width="22.80" height="2.50" fill="#000"/>
<path d="M141.75 1587.00H150.25M146.00 1587.00V1592.30" stroke="#222" stroke-width="2.0" fill="none"/>
<path d="M187.35 1541.40H195.85M191.60 1541.40V1546.00" stroke="#222" stroke-width="2.0" fill="none"/>
<path d="M210.15 1597.00H218.65M214.40 1597.00V1598.80" stroke="#222" stroke-width="2.0" fill="none"/>
<path d="M232.95 1574.50H241.45M237.20 1574.50V1582.70" stroke="#222" stroke-width="2.0" fill="none"/>
<path d="M255.75 1568.60H264.25M260.00 1568.60V1569.70" stroke="#222" stroke-width="2.0" fill="none"/>
<path d="M278.55 1589.70H287.05M282.80 1589.70V1594.80" stroke="#222" stroke-width="2.0" fill="none"/>
<rect x="335.85" y="1598.80" width="8.50" height="2.0" fill="#222"/>
<path d="M358.65 1579.00H367.15M362.90 1579.00V1582.70" stroke="#222" stroke-width="2.0" fill="none"/>
<path d="M381.45 1522.00H389.95M385.70 1522.00V1530.80" stroke="#222" stroke-width="2.0" fill="none"/>
<rect x="404.25" y="1599.40" width="8.50" height="2.0" fill="#222"/>
<path d="M427.05 1586.50H435.55M431.30 1586.50V1588.50" stroke="#222" stroke-width="2.0" fill="none"/>
<rect x="449.85" y="1599.00" width="8.50" height="2.0" fill="#222"/>
<path d="M472.65 1599.60H481.15M476.90 1599.60V1600.00" stroke="#222" stroke-width="2.0" fill="none"/>
<path d="M118.70 1413.30V1605.50" stroke="#3a3a3a" stroke-width="1.6"/>
<path d="M117.90 1602.50H505.40" stroke="#3a3a3a" stroke-width="1.6"/>
<path d="M311.85 1602.50V1607.00" stroke="#3a3a3a" stroke-width="1.3"/>
<path d="M504.80 1602.50V1607.00" stroke="#3a3a3a" stroke-width="1.3"/>
<path d="M114.00 1602.50H119.50" stroke="#3a3a3a" stroke-width="1.4"/>
<text x="96.30" y="1606.75" font-size="13.77" font-weight="normal" fill="#111" textLength="9.20" lengthAdjust="spacingAndGlyphs" stroke="#111" stroke-width="0.15">0</text>
<path d="M114.00 1564.66H119.50" stroke="#3a3a3a" stroke-width="1.4"/>
<text x="77.90" y="1568.91" font-size="13.77" font-weight="normal" fill="#111" textLength="27.60" lengthAdjust="spacingAndGlyphs" stroke="#111" stroke-width="0.15">200</text>
<path d="M114.00 1526.82H119.50" stroke="#3a3a3a" stroke-width="1.4"/>
<text x="77.90" y="1531.07" font-size="13.77" font-weight="normal" fill="#111" textLength="27.60" lengthAdjust="spacingAndGlyphs" stroke="#111" stroke-width="0.15">400</text>
<path d="M114.00 1488.98H119.50" stroke="#3a3a3a" stroke-width="1.4"/>
<text x="77.90" y="1493.23" font-size="13.77" font-weight="normal" fill="#111" textLength="27.60" lengthAdjust="spacingAndGlyphs" stroke="#111" stroke-width="0.15">600</text>
<path d="M114.00 1451.14H119.50" stroke="#3a3a3a" stroke-width="1.4"/>
<text x="77.90" y="1455.39" font-size="13.77" font-weight="normal" fill="#111" textLength="27.60" lengthAdjust="spacingAndGlyphs" stroke="#111" stroke-width="0.15">800</text>
<path d="M114.00 1413.30H119.50" stroke="#3a3a3a" stroke-width="1.4"/>
<text x="68.70" y="1417.55" font-size="13.77" font-weight="normal" fill="#111" textLength="36.80" lengthAdjust="spacingAndGlyphs" stroke="#111" stroke-width="0.15">1000</text>
<rect x="258.50" y="1413.00" width="82.50" height="133.00" fill="#fff"/>
<text x="275.80" y="1425.40" font-size="11.59" font-weight="normal" fill="#111" textLength="36.90" lengthAdjust="spacingAndGlyphs" stroke="#111" stroke-width="0.28">CD14</text>
<rect x="263.00" y="1417.40" width="9.30" height="8.00" fill="#000"/>
<text x="275.80" y="1444.90" font-size="11.59" font-weight="normal" fill="#111" textLength="46.80" lengthAdjust="spacingAndGlyphs" stroke="#111" stroke-width="0.28">WT1-A</text>
<rect x="263.00" y="1436.90" width="1.86" height="8.00" fill="#111"/>
<rect x="266.72" y="1436.90" width="1.86" height="8.00" fill="#111"/>
<rect x="270.44" y="1436.90" width="1.86" height="8.00" fill="#111"/>
<text x="275.80" y="1464.40" font-size="11.59" font-weight="normal" fill="#111" textLength="55.40" lengthAdjust="spacingAndGlyphs" stroke="#111" stroke-width="0.28">WT1-A1</text>
<path d="M263.00 1463.40L268.12 1457.40M267.19 1463.40L272.30 1457.40" stroke="#111" stroke-width="2.2" fill="none"/>
<text x="275.80" y="1483.90" font-size="11.59" font-weight="normal" fill="#111" textLength="21.90" lengthAdjust="spacingAndGlyphs" stroke="#111" stroke-width="0.28">EW</text>
<rect x="263.00" y="1476.16" width="9.30" height="1.4" fill="#111"/>
<rect x="263.00" y="1479.20" width="9.30" height="1.4" fill="#111"/>
<rect x="263.00" y="1482.24" width="9.30" height="1.4" fill="#111"/>
<text x="277.00" y="1503.40" font-size="11.59" font-weight="normal" fill="#111" textLength="34.50" lengthAdjust="spacingAndGlyphs" stroke="#111" stroke-width="0.28">122A</text>
<path d="M267.65 1495.40L272.30 1499.40L267.65 1503.40L263.00 1499.40Z" fill="#111"/><circle cx="267.65" cy="1499.40" r="1.3" fill="#fff"/>
<text x="277.00" y="1522.90" font-size="11.59" font-weight="normal" fill="#111" textLength="42.60" lengthAdjust="spacingAndGlyphs" stroke="#111" stroke-width="0.28">122A1</text>
<rect x="264.00" y="1514.90" width="7.30" height="8.00" fill="url(#ldot)" opacity="0.9"/>
<text x="275.80" y="1542.40" font-size="11.59" font-weight="normal" fill="#111" textLength="61.60" lengthAdjust="spacingAndGlyphs" stroke="#111" stroke-width="0.28">JAK2-DR</text>
<path d="M264.00 1534.40H270.30L267.65 1538.00Z M264.00 1542.40H270.30L267.65 1538.80Z" fill="#111"/>
<circle cx="271.70" cy="1536.60" r="0.9" fill="#222"/><circle cx="271.70" cy="1540.20" r="0.9" fill="#222"/>
<text x="471.01" y="1443.65" font-size="28.33" font-weight="bold" fill="#000" stroke="#000" stroke-width="0.7" textLength="26.75" lengthAdjust="spacingAndGlyphs">iii</text>
<text x="193.50" y="1630.00" font-size="14.20" font-weight="bold" fill="#111" textLength="41.10" lengthAdjust="spacingAndGlyphs" >122A</text>
<text x="381.50" y="1630.00" font-size="14.20" font-weight="bold" fill="#111" textLength="52.00" lengthAdjust="spacingAndGlyphs" >122A1</text>
<text x="174.20" y="1659.60" font-size="19.71" font-weight="bold" fill="#000" textLength="251.60" lengthAdjust="spacingAndGlyphs" stroke="#000" stroke-width="0.6">Peptides for stimulation</text>
</svg></body></html>
